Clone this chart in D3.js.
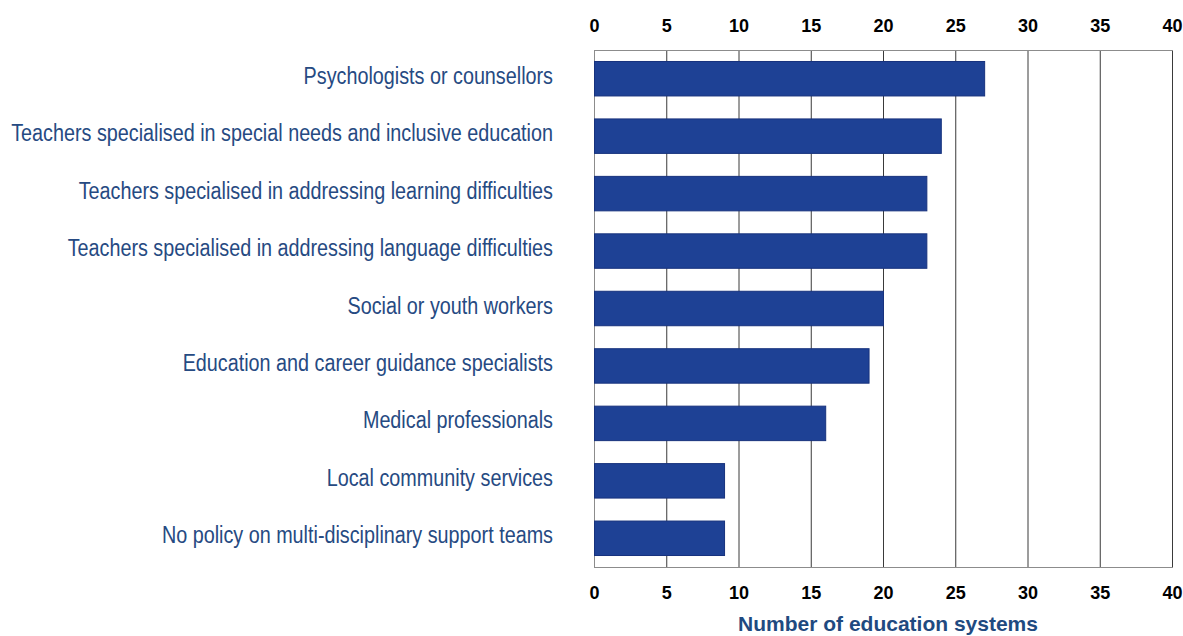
<!DOCTYPE html>
<meta charset="utf-8">
<style>
body { margin: 0; background: #fff; }
.cat { font: 23px 'Liberation Sans', Arial, sans-serif; fill: #264a82; }
.tick text { font: bold 18px 'Liberation Sans', Arial, sans-serif; fill: #000; }
.title { font: bold 21px 'Liberation Sans', Arial, sans-serif; fill: #1f4a80; }
</style>
<body>
<script src="https://cdnjs.cloudflare.com/ajax/libs/d3/7.8.5/d3.min.js"></script>
<script>
var categories = [
  "Psychologists or counsellors",
  "Teachers specialised in special needs and inclusive education",
  "Teachers specialised in addressing learning difficulties",
  "Teachers specialised in addressing language difficulties",
  "Social or youth workers",
  "Education and career guidance specialists",
  "Medical professionals",
  "Local community services",
  "No policy on multi-disciplinary support teams"
];
var values = [27, 24, 23, 23, 20, 19, 16, 9, 9];
var ticks = [0, 5, 10, 15, 20, 25, 30, 35, 40];

var W = 1183, H = 636;
var m = {left: 594, right: 1172, top: 50, bottom: 567};
var narrow = 0.86;

var svg = d3.select("body").append("svg")
    .attr("width", W)
    .attr("height", H);

var x = d3.scaleLinear().domain([0, 40]).range([m.left, m.right]);
var y = d3.scaleBand().domain(categories).range([m.top, m.bottom]).paddingInner(0.4).paddingOuter(0.2);

// grid
svg.append("g").selectAll("line")
  .data(ticks)
  .enter().append("line")
    .attr("x1", function(d) { return x(d) + 0.5; })
    .attr("x2", function(d) { return x(d) + 0.5; })
    .attr("y1", m.top)
    .attr("y2", m.bottom)
    .attr("stroke", function(d) { return d === 0 ? "#8c8c8c" : "#3a3a3a"; })
    .attr("stroke-width", 1);

[m.top, m.bottom].forEach(function(yy) {
  svg.append("line")
      .attr("x1", m.left).attr("x2", m.right + 1).attr("y1", yy + 0.5).attr("y2", yy + 0.5)
      .attr("stroke", "#8c8c8c");
});

// bars
svg.append("g").selectAll("rect")
  .data(values)
  .enter().append("rect")
    .attr("x", x(0) + 0.5)
    .attr("y", function(d, i) { return y(categories[i]); })
    .attr("width", function(d) { return x(d) - x(0); })
    .attr("height", y.bandwidth())
    .attr("fill", "#1e4195")
    .attr("stroke", "#17327d")
    .attr("stroke-width", 1);

// category labels, condensed to mimic Arial Narrow
svg.append("g").selectAll("text")
  .data(categories)
  .enter().append("text")
    .attr("class", "cat")
    .attr("transform", function(d) {
      return "translate(553," + (y(d) + y.bandwidth() / 2 + 5) + ") scale(" + narrow + ",1)";
    })
    .attr("text-anchor", "end")
    .text(function(d) { return d; });

// axes
var axTop = d3.axisTop(x).tickValues(ticks).tickSize(0).tickPadding(0);
svg.append("g")
    .attr("transform", "translate(0,32)")
    .call(axTop)
    .call(function(g) { g.select(".domain").remove(); });

var axBot = d3.axisBottom(x).tickValues(ticks).tickSize(0).tickPadding(0);
svg.append("g")
    .attr("transform", "translate(0,586)")
    .call(axBot)
    .call(function(g) { g.select(".domain").remove(); });

svg.append("text")
    .attr("class", "title")
    .attr("x", 888)
    .attr("y", 631)
    .attr("text-anchor", "middle")
    .text("Number of education systems");
</script>
